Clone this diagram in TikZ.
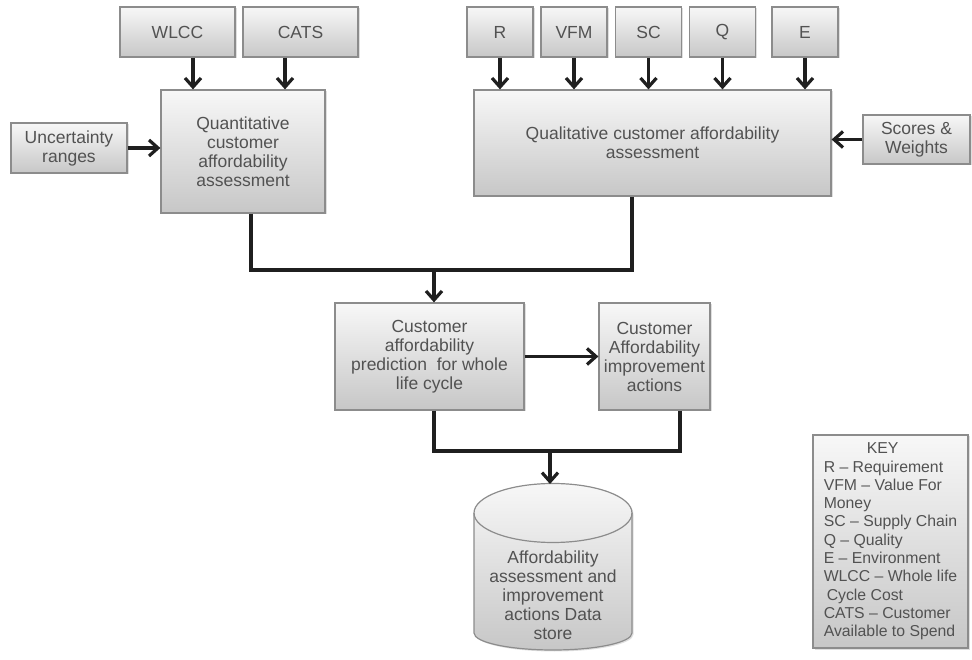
\documentclass[tikz,border=0pt]{standalone}
\usepackage{fontspec}
\setmainfont{Liberation Sans}
\usetikzlibrary{positioning, arrows.meta, shadows}

\begin{document}
\begin{tikzpicture}[x=1pt,y=1pt,
  box/.style={draw=boxedge, line width=1.2pt, top color=boxtop, bottom color=boxbottom,
    text=boxtext, align=center, inner sep=2pt, font=\fontsize{17.5}{19}\selectfont,
    drop shadow={opacity=0.25,shadow xshift=1.5pt,shadow yshift=-1.5pt}},
  conn/.style={line width=3.2pt, draw=black!88},
  connarrow/.style={conn, -{Straight Barb[length=9pt,width=16pt]}}]
\colorlet{boxedge}{black!45}
\colorlet{boxtop}{black!3}
\colorlet{boxbottom}{black!22}
\colorlet{boxtext}{black!68}
\useasboundingbox (0,0) rectangle (972,659);

% inputs along the top
\node[box, minimum width=115pt, minimum height=50pt] (wlcc) at (177.5,627) {WLCC};
\node[box, minimum width=115pt, minimum height=50pt] (cats) at (300.5,627) {CATS};
\node[box, minimum width=66pt, minimum height=50pt] (r) at (500,627) {R};
\node[box, minimum width=66pt, minimum height=50pt] (vfm) at (574,627) {VFM};
\node[box, minimum width=66pt, minimum height=50pt] (sc) at (648.5,627) {SC};
\node[box, minimum width=66pt, minimum height=50pt] (q) at (722.5,627) {Q};
\node[box, minimum width=66pt, minimum height=50pt] (e) at (805,627) {E};

% assessments
\node[box, minimum width=164pt, minimum height=123pt] (quant) at (243,507.5)
  {Quantitative\\customer\\affordability\\assessment};
\node[box, minimum width=116pt, minimum height=50pt] (unc) at (69,511)
  {Uncertainty\\ranges};
\node[box, minimum width=357pt, minimum height=106pt] (qual) at (652.5,516)
  {Qualitative customer affordability\\assessment};
\node[box, minimum width=107pt, minimum height=49pt] (scores) at (916.5,519.5)
  {Scores \&\\Weights};

% prediction and actions
\node[box, minimum width=189pt, minimum height=107pt] (pred) at (429.5,302.5)
  {Customer\\affordability\\prediction\ \ for whole\\life cycle};
\node[box, minimum width=111pt, minimum height=107pt] (impr) at (654.5,302.5)
  {Customer\\Affordability\\improvement\\actions};

% data store
\path[draw=boxedge, line width=1.2pt, top color=boxtop, bottom color=boxbottom,
  drop shadow={opacity=0.25,shadow xshift=1.5pt,shadow yshift=-1.5pt}]
  (474,146) -- (474,26) arc[start angle=180,end angle=360,x radius=79,y radius=17]
  -- (632,146) arc[start angle=0,end angle=180,x radius=79,y radius=29.5] -- cycle;
\draw[boxedge, line width=1.2pt] (474,146)
  arc[start angle=180,end angle=360,x radius=79,y radius=29.5];
\coordinate (storetop) at (550,175);
\node[text=boxtext, align=center, font=\fontsize{17.5}{19}\selectfont] (store) at (553,64)
  {Affordability\\assessment and\\improvement\\actions Data\\store};

% key
\node[box, minimum height=213pt, minimum width=155pt, align=left,
  font=\fontsize{15.8}{18.3}\selectfont] (key) at (890.5,117.5)
  {\hspace*{43pt}KEY\\R -- Requirement\\VFM -- Value For\\Money\\SC -- Supply Chain\\
   Q -- Quality\\E -- Environment\\WLCC -- Whole life\\\hspace*{3pt}Cycle Cost\\
   CATS -- Customer\\Available to Spend};

% connectors
\draw[connarrow] ([xshift=15.5pt]wlcc.south) -- ([xshift=15.5pt]wlcc.south |- quant.north);
\draw[connarrow] ([xshift=-15.5pt]cats.south) -- ([xshift=-15.5pt]cats.south |- quant.north);
\foreach \n in {r,vfm,sc,q,e}{
  \draw[connarrow] (\n.south) -- (\n.south |- qual.north);
}
\draw[connarrow] (unc.east) -- (unc.east -| quant.west);
\draw[connarrow] (scores.west) -- (scores.west -| qual.east);

\coordinate (joinup) at (434,389);
\draw[conn] ([xshift=8pt]quant.south) |- (joinup);
\draw[conn] ([xshift=-20.5pt]qual.south) |- (joinup);
\draw[connarrow] (joinup) -- (joinup |- pred.north);
\draw[connarrow] (pred.east) -- (pred.east -| impr.west);

\coordinate (joindown) at (550,208);
\draw[conn] ([xshift=4.5pt]pred.south) |- (joindown);
\draw[conn] ([xshift=25.5pt]impr.south) |- (joindown);
\draw[connarrow] (joindown) -- (storetop);
\end{tikzpicture}
\end{document}
